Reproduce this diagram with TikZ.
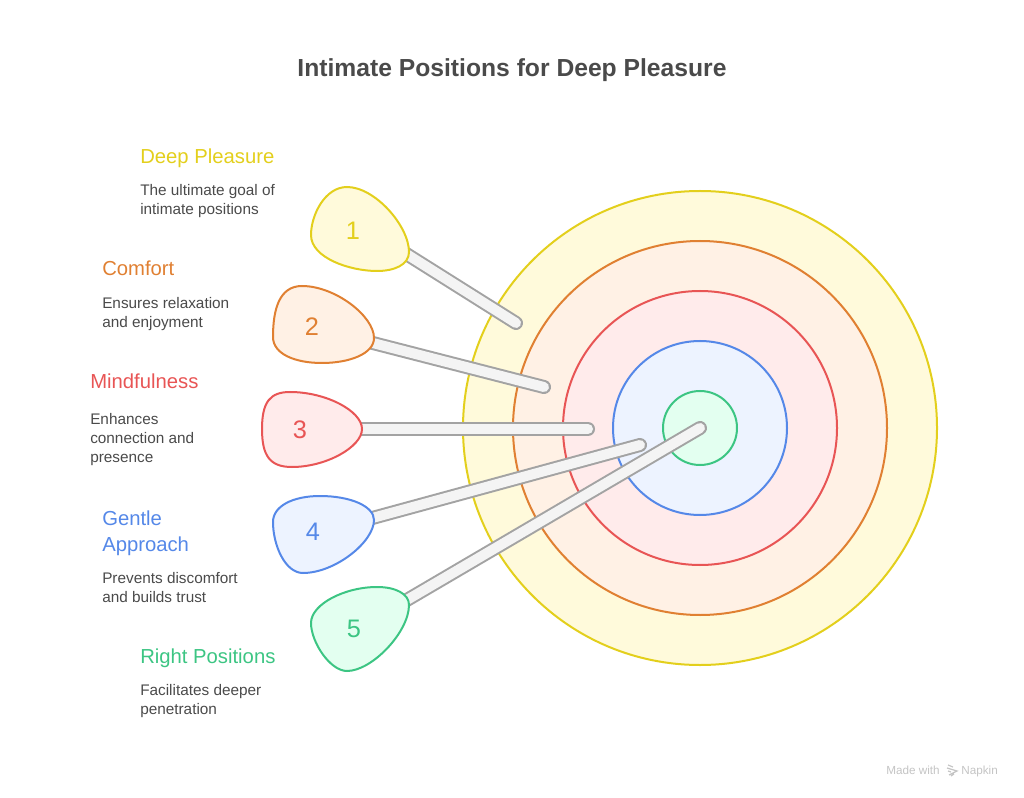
\documentclass[tikz,border=0pt]{standalone}
\usepackage{fontspec}
\setmainfont{Liberation Sans}
\definecolor{cy}{HTML}{E3CF1C}\definecolor{fy}{HTML}{FFFADB}
\definecolor{co}{HTML}{E08032}\definecolor{fo}{HTML}{FFF1E5}
\definecolor{cr}{HTML}{E85555}\definecolor{fr}{HTML}{FFEBEB}
\definecolor{cb}{HTML}{5588E8}\definecolor{fb}{HTML}{EDF3FF}
\definecolor{cg}{HTML}{3CC583}\definecolor{fg}{HTML}{E3FFF0}
\definecolor{ink}{HTML}{4A4A4A}\definecolor{shaftfill}{HTML}{F4F4F4}\definecolor{shaftline}{HTML}{A3A3A3}
\definecolor{wm}{HTML}{C4C4C4}
\tikzset{
 ring/.style={draw=#1,line width=1.5pt},
 blob/.style={line width=1.5pt},
 shaft/.style={draw=shaftline,line width=1.5pt,double=shaftfill,double distance=7.5pt,line cap=round},
 num/.style={font=\fontsize{19}{19}\selectfont,inner sep=0pt},
 head/.style={font=\fontsize{15.2}{19}\selectfont,inner sep=0pt,anchor=base west,align=left},
 body/.style={font=\fontsize{11.5}{14.25}\selectfont,text=ink,inner sep=0pt,anchor=base west,align=left},
}
\begin{document}
\begin{tikzpicture}[x=0.75pt,y=-0.75pt]
\useasboundingbox (0,0) rectangle (1024,798);
\node[font=\fontsize{18.5}{19}\selectfont\bfseries,text=ink,inner sep=0pt] (title) at (512,70) {Intimate Positions for Deep Pleasure};
% target
\filldraw[ring=cy,fill=fy] (700,428) circle (237);
\filldraw[ring=co,fill=fo] (700,428) circle (187);
\filldraw[ring=cr,fill=fr] (700,428) circle (137);
\filldraw[ring=cb,fill=fb] (700,428) circle (87);
\filldraw[ring=cg,fill=fg] (700,428) circle (37);
% shafts
\coordinate (s1) at (400,250);\coordinate (e1) at (516,323);
\coordinate (s2) at (365,341);\coordinate (e2) at (544,387);
\coordinate (s3) at (350,429);\coordinate (e3) at (588,429);
\coordinate (s4) at (365,520);\coordinate (e4) at (640,445);
\coordinate (s5) at (400,604);\coordinate (e5) at (700,428);
\draw[shaft] (s1) -- (e1);
\draw[shaft] (s2) -- (e2);
\draw[shaft] (s3) -- (e3);
\draw[shaft] (s4) -- (e4);
\draw[shaft] (s5) -- (e5);
% blobs
\filldraw[blob,draw=cy,fill=fy] (347,187) .. controls (375,187) and (409,226) .. (409,252)
  .. controls (409,265) and (394,271) .. (377,271) .. controls (350,271) and (311,258) .. (311,235)
  .. controls (311,215) and (325,187) .. (347,187) -- cycle;
\filldraw[blob,draw=co,fill=fo] (302,286) .. controls (335,286) and (374,316) .. (374,338)
  .. controls (374,354) and (349,363) .. (322,363) .. controls (295,363) and (273,354) .. (273,337)
  .. controls (273,310) and (279,286) .. (302,286) -- cycle;
\filldraw[blob,draw=cr,fill=fr] (290,392) .. controls (326,392) and (362,411) .. (362,429)
  .. controls (362,447) and (326,467) .. (292,467) .. controls (270,467) and (262,456) .. (262,429)
  .. controls (262,402) and (270,392) .. (290,392) -- cycle;
\filldraw[blob,draw=cb,fill=fb] (320,496) .. controls (350,496) and (374,506) .. (374,520)
  .. controls (374,542) and (335,573) .. (303,573) .. controls (285,573) and (273,545) .. (273,522)
  .. controls (273,506) and (293,496) .. (320,496) -- cycle;
\filldraw[blob,draw=cg,fill=fg] (377,587) .. controls (396,587) and (409,594) .. (409,605)
  .. controls (409,632) and (372,671) .. (347,671) .. controls (330,671) and (311,642) .. (311,623)
  .. controls (311,604) and (345,587) .. (377,587) -- cycle;
% numbers
\node[num,text=cy] (n1) at (353,231) {1};
\node[num,text=co] (n2) at (312,327) {2};
\node[num,text=cr] (n3) at (300,430) {3};
\node[num,text=cb] (n4) at (313,532) {4};
\node[num,text=cg] (n5) at (354,629) {5};
% labels
\node[head,text=cy] (h1) at (140,164) {Deep Pleasure};
\node[body] (t1) at (140,215) {The ultimate goal of\\intimate positions};
\node[head,text=co] (h2) at (102,276) {Comfort};
\node[body] (t2) at (102,328) {Ensures relaxation\\and enjoyment};
\node[head,text=cr] (h3) at (90,388) {Mindfulness};
\node[body] (t3) at (90,462) {Enhances\\connection and\\presence};
\node[head,text=cb] (h4) at (102,551) {Gentle\\Approach};
\node[body] (t4) at (102,602) {Prevents discomfort\\and builds trust};
\node[head,text=cg] (h5) at (140,663) {Right Positions};
\node[body] (t5) at (140,714) {Facilitates deeper\\penetration};
% watermark
\node[font=\fontsize{8.8}{10}\selectfont,text=wm,inner sep=0pt,anchor=base west] (wm1) at (886,774) {Made with};
\node[font=\fontsize{8.8}{10}\selectfont,text=wm,inner sep=0pt,anchor=base west] (wm2) at (961,774) {Napkin};
\draw[wm,line width=0.9pt] (948,765) -- (953,767) (947,768) -- (957,771) -- (949,775) (948,771) -- (951,772) (951,776) -- (954,774);
\end{tikzpicture}
\end{document}
